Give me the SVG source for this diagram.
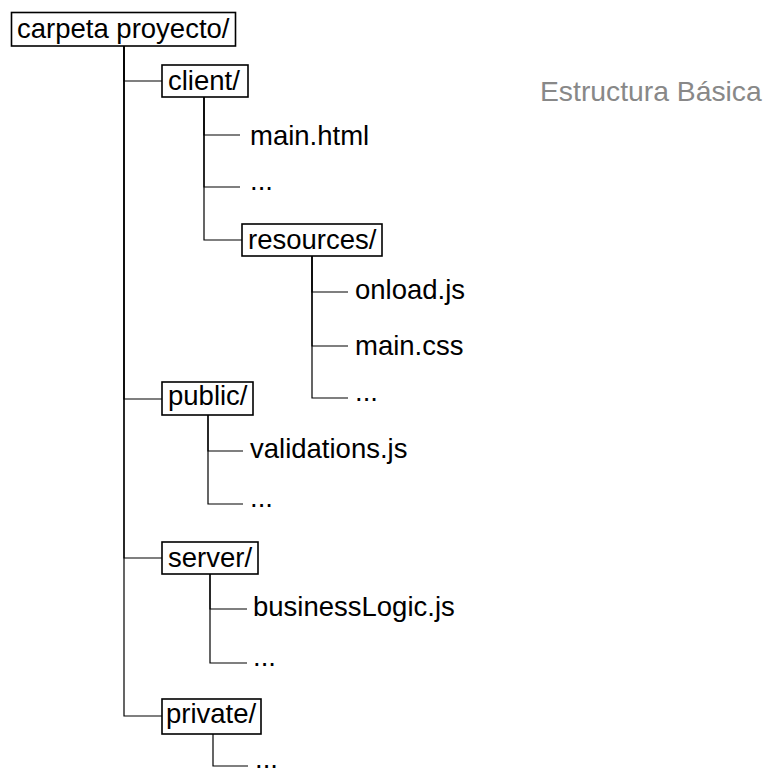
<svg xmlns="http://www.w3.org/2000/svg" width="770" height="772" viewBox="0 0 770 772">
  <style>
    text { font-family: "Liberation Sans", Arial, Helvetica, sans-serif; font-size: 27.5px; fill: #000; }
    .title { fill: #888888; font-size: 28.3px; }
    .box { fill: #fff; stroke: #000; stroke-width: 1.6; }
    .edge { fill: none; stroke: #000; stroke-width: 1.2; }
  </style>

  <!-- tree edges -->
  <g id="connectors">
    <path class="edge" d="M124 46 V81 H162"/>
    <path class="edge" d="M124 46 V399 H162"/>
    <path class="edge" d="M124 46 V558 H162"/>
    <path class="edge" d="M124 46 V716 H162"/>

    <path class="edge" d="M204 97 V135 H240"/>
    <path class="edge" d="M204 97 V187 H240"/>
    <path class="edge" d="M204 97 V240 H242"/>

    <path class="edge" d="M312 256 V292 H348"/>
    <path class="edge" d="M312 256 V346 H348"/>
    <path class="edge" d="M312 256 V398 H348"/>

    <path class="edge" d="M208 415 V451 H243"/>
    <path class="edge" d="M208 415 V504 H243"/>

    <path class="edge" d="M210 574 V609 H247"/>
    <path class="edge" d="M210 574 V663 H247"/>

    <path class="edge" d="M213 734 V766 H248"/>
  </g>

  <g id="root">
    <rect class="box" x="11.5" y="12.5" width="224" height="33.5"/>
    <text x="17" y="38">carpeta proyecto/</text>
  </g>

  <g id="title">
    <text class="title" x="540" y="101">Estructura Básica</text>
  </g>

  <g id="client">
    <rect class="box" x="162" y="65" width="86" height="32"/>
    <text x="168" y="90">client/</text>
  </g>
  <g id="client-main-html">
    <text x="250" y="145">main.html</text>
  </g>
  <g id="client-more">
    <text x="250" y="190">...</text>
  </g>

  <g id="resources">
    <rect class="box" x="242" y="224" width="140" height="32"/>
    <text x="248" y="249">resources/</text>
  </g>
  <g id="resources-onload">
    <text x="355" y="299">onload.js</text>
  </g>
  <g id="resources-main-css">
    <text x="355" y="355">main.css</text>
  </g>
  <g id="resources-more">
    <text x="355" y="401">...</text>
  </g>

  <g id="public">
    <rect class="box" x="162" y="382" width="91" height="33"/>
    <text x="168" y="405">public/</text>
  </g>
  <g id="public-validations">
    <text x="250" y="458">validations.js</text>
  </g>
  <g id="public-more">
    <text x="250" y="507">...</text>
  </g>

  <g id="server">
    <rect class="box" x="162" y="542" width="96" height="32"/>
    <text x="168" y="567">server/</text>
  </g>
  <g id="server-business-logic">
    <text x="253" y="616">businessLogic.js</text>
  </g>
  <g id="server-more">
    <text x="253" y="666">...</text>
  </g>

  <g id="private">
    <rect class="box" x="162" y="699" width="99" height="35"/>
    <text x="166" y="723">private/</text>
  </g>
  <g id="private-more">
    <text x="255" y="768">...</text>
  </g>
</svg>
